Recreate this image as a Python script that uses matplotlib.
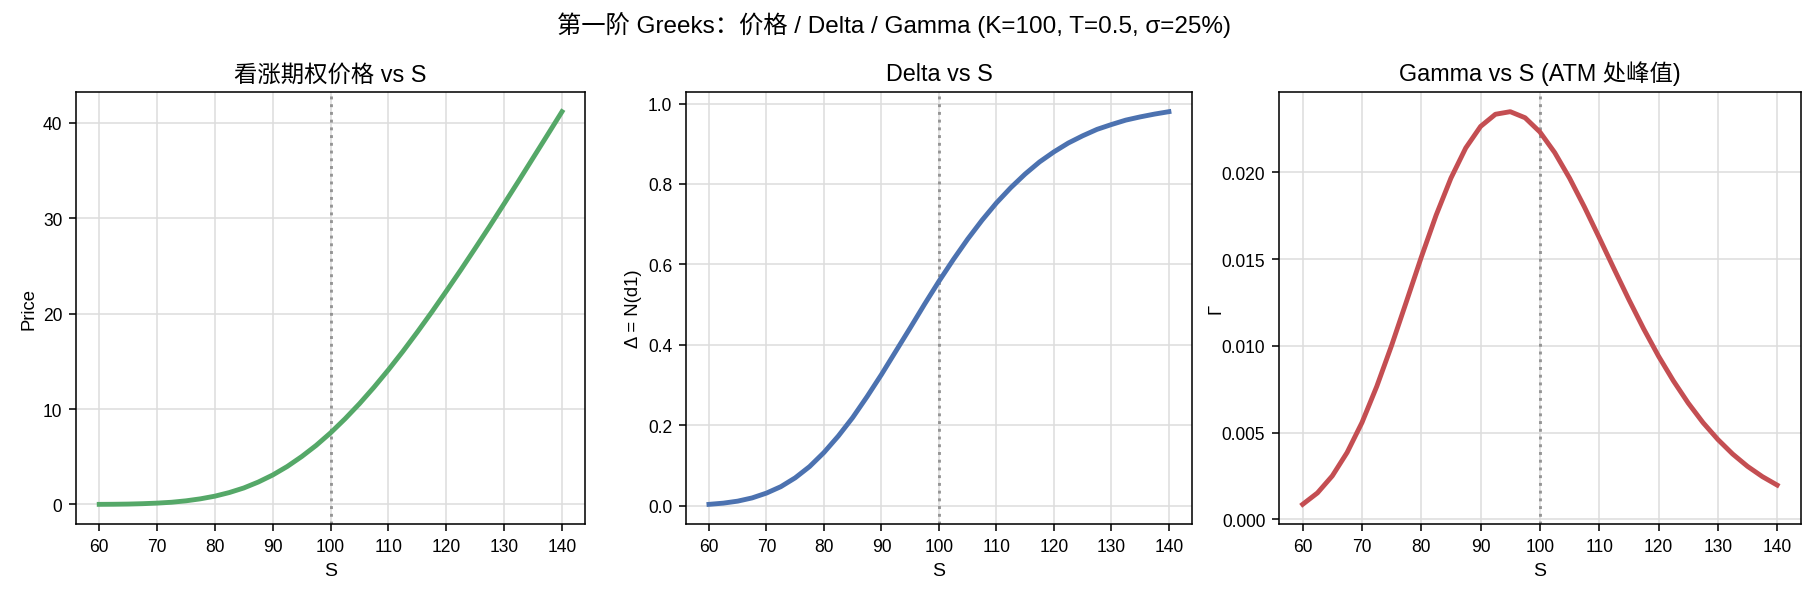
"""First-order Greeks of a European call: price, delta and gamma against spot."""

import matplotlib

matplotlib.use("Agg")
import matplotlib.pyplot as plt

plt.rcParams["font.family"] = ["Liberation Sans", "Noto Sans CJK SC", "DejaVu Sans"]
plt.rcParams["axes.unicode_minus"] = False

# Values (K=100, T=0.5, sigma=25%)
spot = [60, 62.5, 65, 67.5, 70, 72.5, 75, 77.5, 80, 82.5, 85, 87.5, 90, 92.5,
        95, 97.5, 100, 102.5, 105, 107.5, 110, 112.5, 115, 117.5, 120, 122.5,
        125, 127.5, 130, 132.5, 135, 137.5, 140]
price = [0.01, 0.02, 0.04, 0.08, 0.14, 0.23, 0.38, 0.59, 0.87, 1.25, 1.73,
         2.35, 3.09, 3.98, 5.02, 6.19, 7.51, 8.98, 10.57, 12.29, 14.12, 16.05,
         18.08, 20.18, 22.36, 24.58, 26.86, 29.17, 31.53, 33.91, 36.33, 38.75,
         41.18]
delta = [0.003, 0.006, 0.011, 0.019, 0.031, 0.047, 0.069, 0.097, 0.132, 0.173,
         0.219, 0.271, 0.326, 0.384, 0.442, 0.501, 0.558, 0.612, 0.663, 0.710,
         0.753, 0.791, 0.825, 0.855, 0.880, 0.902, 0.920, 0.936, 0.948, 0.959,
         0.967, 0.974, 0.980]
gamma = [0.00087, 0.00153, 0.00251, 0.00386, 0.00558, 0.00767, 0.01003,
         0.01256, 0.01511, 0.01753, 0.01967, 0.02141, 0.02265, 0.02335,
         0.02350, 0.02315, 0.02233, 0.02114, 0.01967, 0.01801, 0.01624,
         0.01444, 0.01267, 0.01098, 0.00941, 0.00799, 0.00671, 0.00558,
         0.00461, 0.00377, 0.00306, 0.00247, 0.00198]

strike = 100

fig = plt.figure(figsize=(13, 4.271), dpi=140)
positions = [
    [0.0418, 0.1221, 0.2797, 0.7224],
    [0.3769, 0.1221, 0.2780, 0.7224],
    [0.7027, 0.1221, 0.2868, 0.7224],
]
panels = [
    (price, "#55a868", "看涨期权价格 vs S", "Price", 3),
    (delta, "#4c72b0", "Delta vs S", "Δ = N(d1)", 3),
    (gamma, "#c44e52", "Gamma vs S (ATM 处峰值)", "Γ", -1.5),
]

for pos, (ys, color, title, ylabel, pad) in zip(positions, panels):
    ax = fig.add_axes(pos)
    ax.plot(spot, ys, color=color, lw=2.5, solid_joinstyle="round", zorder=3)
    ax.axvline(strike, color="gray", ls=":", lw=1.5, alpha=0.8, zorder=2)
    ax.set_title(title, fontsize=12)
    ax.set_xlabel("S", fontsize=10)
    ax.set_ylabel(ylabel, fontsize=9.5, labelpad=pad)
    ax.set_xticks(range(60, 141, 10))
    ax.tick_params(labelsize=9)
    ax.grid(True, color="#dddddd", lw=0.8)
    ax.set_axisbelow(True)

# the reference was cropped tightly, so its title sits a little left of centre
fig.suptitle("第一阶 Greeks：价格 / Delta / Gamma (K=100, T=0.5, σ=25%)",
             fontsize=12.5, x=0.491, y=0.98)

fig.savefig("out.png", dpi=140)
